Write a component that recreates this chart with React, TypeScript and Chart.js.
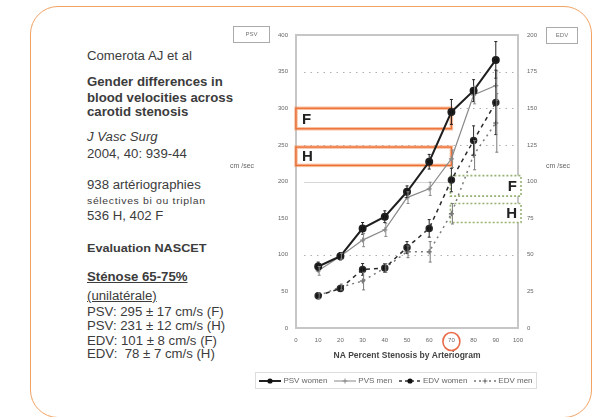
import React, { useEffect, useRef } from "react";
import { Chart, registerables } from "chart.js";
Chart.register(...registerables);

// ---- data ----
const stenosis = [10, 20, 30, 40, 50, 60, 70, 80, 90];
const psvWomen = [84, 98, 136, 152, 186, 227, 295, 324, 366];
const psvWomenErr = [6, 5, 8, 8, 8, 10, 17, 15, 25];
const psvMen = [78, 98, 120, 134, 178, 190, 231, 318, 331];
const psvMenErr = [6, 4, 9, 9, 8, 9, 12, 12, 20];
const edvWomen = [22, 27, 40, 41, 55, 68, 101, 128, 154];
const edvWomenErr = [2, 2, 4, 3, 4, 6, 8, 10, 22];
const edvMen = [22, 28, 32, 41, 52, 52, 78, 118, 140];
const edvMenErr = [2, 2, 6, 3, 4, 7, 7, 10, 20];
const seriesLabels = ["PSV women", "PVS men", "EDV women", "EDV men"];
const gridLevels = [100, 200, 250, 300, 350];
const psvZoneLabels = ["F", "H"];
const psvZoneLow = [272, 222];
const psvZoneHigh = [300, 247];
const edvZoneLabels = ["F", "H"];
const edvZoneLow = [90, 72];
const edvZoneHigh = [104, 85];
const zoneStenosis = 70;
const highlightedTick = 70;

const slideLines = [
  { t: "Comerota AJ et al", y: 50, s: 12, w: "normal", i: false, u: false, ls: 0 },
  { t: "Gender differences in", y: 76, s: 12, w: "bold", i: false, u: false, ls: 0 },
  { t: "blood velocities across", y: 92, s: 12, w: "bold", i: false, u: false, ls: 0 },
  { t: "carotid stenosis", y: 106, s: 12, w: "bold", i: false, u: false, ls: 0 },
  { t: "J Vasc Surg", y: 131, s: 12, w: "normal", i: true, u: false, ls: 0 },
  { t: "2004, 40: 939-44", y: 148, s: 12, w: "normal", i: false, u: false, ls: 0 },
  { t: "938 artériographies", y: 179, s: 12, w: "normal", i: false, u: false, ls: 0 },
  { t: "sélectives bi ou triplan", y: 196, s: 9.5, w: "normal", i: false, u: false, ls: 0.6 },
  { t: "536 H, 402 F", y: 210, s: 12, w: "normal", i: false, u: false, ls: 0 },
  { t: "Evaluation NASCET", y: 243, s: 11.5, w: "bold", i: false, u: false, ls: 0 },
  { t: "Sténose 65-75%", y: 271, s: 12, w: "bold", i: false, u: true, ls: 0 },
  { t: "(unilatérale)", y: 290, s: 12, w: "normal", i: false, u: true, ls: 0 },
  { t: "PSV: 295 ± 17 cm/s (F)", y: 306, s: 12, w: "normal", i: false, u: false, ls: 0 },
  { t: "PSV: 231 ± 12 cm/s (H)", y: 320, s: 12, w: "normal", i: false, u: false, ls: 0 },
  { t: "EDV: 101 ± 8 cm/s (F)", y: 335, s: 12, w: "normal", i: false, u: false, ls: 0 },
  { t: "EDV:  78 ± 7 cm/s (H)", y: 348, s: 12, w: "normal", i: false, u: false, ls: 0 },
];

const toPts = (ys: number[]) => ys.map((v, i) => ({ x: stenosis[i], y: v }));

const overlay = {
  id: "overlay",
  beforeDatasetsDraw(chart: any) {
    const { ctx, chartArea: a, scales } = chart;
    const x = scales.x, y = scales.y, y2 = scales.y2;
    ctx.save();
    ctx.strokeStyle = "#c6c6c6";
    ctx.lineWidth = 2;
    ctx.strokeRect(a.left, a.top, a.right - a.left, a.bottom - a.top);
    gridLevels.forEach((v) => {
      const py = Math.round(y.getPixelForValue(v)) + 0.5;
      ctx.strokeStyle = v === 200 ? "#d6d6d6" : "#b0b0b0";
      ctx.setLineDash(v === 200 ? [] : [1.5, 5]);
      ctx.lineWidth = 1.2;
      ctx.beginPath();
      ctx.moveTo(a.left + 8, py);
      ctx.lineTo(a.right - 4, py);
      ctx.stroke();
    });
    ctx.setLineDash([]);
    psvZoneLabels.forEach((lab, i) => {
      const x0 = x.getPixelForValue(0);
      const x1 = x.getPixelForValue(zoneStenosis);
      const yt = y.getPixelForValue(psvZoneHigh[i]);
      const yb = y.getPixelForValue(psvZoneLow[i]);
      ctx.fillStyle = "#ffffff";
      ctx.fillRect(x0, yt, x1 - x0, yb - yt);
      ctx.strokeStyle = "rgba(242,140,80,0.55)";
      ctx.lineWidth = 3.5;
      ctx.strokeRect(x0, yt, x1 - x0, yb - yt);
      ctx.strokeStyle = "rgba(236,100,40,0.9)";
      ctx.lineWidth = 1.3;
      ctx.strokeRect(x0, yt, x1 - x0, yb - yt);
      ctx.fillStyle = "#222";
      ctx.font = "bold 15px 'Liberation Sans', Arial, sans-serif";
      ctx.textBaseline = "middle";
      ctx.textAlign = "left";
      ctx.fillText(lab, x0 + 6, (yt + yb) / 2 + 1);
    });
    edvZoneLabels.forEach((lab, i) => {
      const x0 = x.getPixelForValue(zoneStenosis) - 1;
      const x1 = a.right + 3;
      const yt = y2.getPixelForValue(edvZoneHigh[i]);
      const yb = y2.getPixelForValue(edvZoneLow[i]);
      ctx.fillStyle = "#ffffff";
      ctx.fillRect(x0, yt, x1 - x0, yb - yt);
      ctx.strokeStyle = "rgba(140,170,100,0.9)";
      ctx.setLineDash([2, 2]);
      ctx.lineWidth = 1.6;
      ctx.strokeRect(x0, yt, x1 - x0, yb - yt);
      ctx.setLineDash([]);
      ctx.fillStyle = "#222";
      ctx.font = "bold 15px 'Liberation Sans', Arial, sans-serif";
      ctx.textBaseline = "middle";
      ctx.textAlign = "right";
      ctx.fillText(lab, x1 - 4, (yt + yb) / 2 + 1);
    });
    ctx.restore();
  },
  afterDatasetsDraw(chart: any) {
    const { ctx, chartArea: a, scales } = chart;
    ctx.save();
    chart.data.datasets.forEach((ds: any) => {
      const sc = scales[ds.yAxisID];
      ctx.strokeStyle = ds.borderColor;
      ctx.lineWidth = 1;
      ctx.setLineDash([]);
      ds.data.forEach((p: any, i: number) => {
        const e = ds.errors[i];
        const px = scales.x.getPixelForValue(p.x) + ds.errShift;
        const yt = sc.getPixelForValue(p.y + e);
        const yb = sc.getPixelForValue(p.y - e);
        ctx.beginPath();
        ctx.moveTo(px, yt);
        ctx.lineTo(px, yb);
        ctx.moveTo(px - 1.5, yt);
        ctx.lineTo(px + 1.5, yt);
        ctx.moveTo(px - 1.5, yb);
        ctx.lineTo(px + 1.5, yb);
        ctx.stroke();
      });
    });
    const cx = scales.x.getPixelForValue(highlightedTick);
    ctx.strokeStyle = "rgba(230,90,50,0.9)";
    ctx.lineWidth = 1.6;
    ctx.beginPath();
    ctx.ellipse(cx, a.bottom + 13.5, 8.5, 9, 0, 0, Math.PI * 2);
    ctx.stroke();
    ctx.restore();
  },
};

function LegendSample({ dash, color, width, marker }: any) {
  return (
    <svg width="22" height="8" style={{ verticalAlign: "middle", marginRight: 2 }}>
      <line x1="0" y1="4" x2="22" y2="4" stroke={color} strokeWidth={width} strokeDasharray={dash} />
      {marker === "dot" ? (
        <circle cx="11" cy="4" r="2.6" fill="#111" />
      ) : (
        <path d="M8.5 4 H13.5 M11 1.5 V6.5" stroke={color} strokeWidth="1" />
      )}
    </svg>
  );
}

export default function App() {
  const ref = useRef<HTMLCanvasElement>(null);
  useEffect(() => {
    if (!ref.current) return;
    const chart = new Chart(ref.current, {
      type: "line",
      data: {
        datasets: [
          {
            label: seriesLabels[0], data: toPts(psvWomen), yAxisID: "y", errors: psvWomenErr, errShift: 0,
            borderColor: "#1e1e1e", backgroundColor: "#111", borderWidth: 2, pointRadius: 3, pointStyle: "circle",
          },
          {
            label: seriesLabels[1], data: toPts(psvMen), yAxisID: "y", errors: psvMenErr, errShift: 1,
            borderColor: "#8a8a8a", backgroundColor: "#8a8a8a", borderWidth: 1.2, pointRadius: 2.5, pointStyle: "cross",
          },
          {
            label: seriesLabels[2], data: toPts(edvWomen), yAxisID: "y2", errors: edvWomenErr, errShift: 0,
            borderColor: "#2a2a2a", backgroundColor: "#111", borderWidth: 1.5, borderDash: [4, 4], pointRadius: 3, pointStyle: "circle",
          },
          {
            label: seriesLabels[3], data: toPts(edvMen), yAxisID: "y2", errors: edvMenErr, errShift: 1,
            borderColor: "#7a7a7a", backgroundColor: "#7a7a7a", borderWidth: 1.5, borderDash: [2, 4], pointRadius: 2.5, pointStyle: "cross",
          },
        ] as any,
      },
      options: {
        responsive: false,
        animation: false,
        events: [],
        layout: { padding: { left: 260, right: 48, top: 35, bottom: 54 } },
        plugins: { legend: { display: false }, tooltip: { enabled: false } },
        scales: {
          x: {
            type: "linear", min: 0, max: 100,
            afterFit: (s: any) => { s.height = 35; },
            grid: { display: false, drawTicks: false },
            border: { display: false },
            ticks: { stepSize: 10, padding: 9, color: "#666", font: { size: 6, family: "'Liberation Sans', Arial" }, maxRotation: 0 },
            title: {
              display: true, text: "NA Percent Stenosis by Arteriogram", color: "#444",
              font: { size: 8.5, weight: "bold", family: "'Liberation Sans', Arial" }, padding: { top: 0, bottom: 2 },
            },
          },
          y: {
            position: "left", min: 0, max: 400,
            afterFit: (s: any) => { s.width = 36; },
            grid: { display: false, drawTicks: false },
            border: { display: false },
            ticks: { stepSize: 50, padding: 8, color: "#666", font: { size: 6, family: "'Liberation Sans', Arial" } },
          },
          y2: {
            position: "right", min: 0, max: 200,
            afterFit: (s: any) => { s.width = 30; },
            grid: { display: false, drawTicks: false },
            border: { display: false },
            ticks: { stepSize: 25, padding: 9, color: "#666", font: { size: 6, family: "'Liberation Sans', Arial" } },
          },
        },
      } as any,
      plugins: [overlay],
    });
    return () => chart.destroy();
  }, []);

  const base: React.CSSProperties = { position: "absolute", fontFamily: "'Liberation Sans', Arial, sans-serif", color: "#3c3c3c", whiteSpace: "pre" };
  const samples = [
    { dash: "", color: "#222", width: 2, marker: "dot" },
    { dash: "", color: "#888", width: 1, marker: "cross" },
    { dash: "3 3", color: "#333", width: 1.3, marker: "dot" },
    { dash: "2 3", color: "#777", width: 1.3, marker: "cross" },
  ];

  return (
    <div style={{ position: "fixed", left: 0, top: 0, width: 596, height: 417, background: "#fff", overflow: "hidden" }}>
      <div style={{ position: "absolute", left: 30, top: 6, width: 560, height: 410, border: "1.5px solid #f2a262", borderRadius: 28 }} />
      {slideLines.map((l, i) => (
        <div key={i} style={{ ...base, left: 87, top: l.y, fontSize: l.s, fontWeight: l.w as any, fontStyle: l.i ? "italic" : "normal", textDecoration: l.u ? "underline" : "none", letterSpacing: l.ls, lineHeight: 1, transform: "scaleX(1.1)", transformOrigin: "0 0" }}>
          {l.t}
        </div>
      ))}
      <canvas ref={ref} width={596} height={417} style={{ position: "absolute", left: 0, top: 0 }} />
      <div style={{ ...base, left: 233, top: 26, width: 35, height: 15, border: "1px solid #aaa", fontSize: 6, color: "#777", textAlign: "center", lineHeight: "15px" }}>PSV</div>
      <div style={{ ...base, left: 546, top: 27, width: 30, height: 15, border: "1px solid #aaa", fontSize: 6, color: "#777", textAlign: "center", lineHeight: "15px" }}>EDV</div>
      <div style={{ ...base, left: 230, top: 162, fontSize: 7, color: "#666" }}>cm /sec</div>
      <div style={{ ...base, left: 546, top: 162, fontSize: 7, color: "#666" }}>cm /sec</div>
      <div style={{ ...base, left: 255, top: 372, width: 280, height: 15, border: "1px solid #ddd", fontSize: 8, color: "#666", display: "flex", alignItems: "center", justifyContent: "space-around" }}>
        {seriesLabels.map((lab, i) => (
          <span key={i} style={{ display: "flex", alignItems: "center" }}>
            <LegendSample {...samples[i]} />
            {lab}
          </span>
        ))}
      </div>
    </div>
  );
}
